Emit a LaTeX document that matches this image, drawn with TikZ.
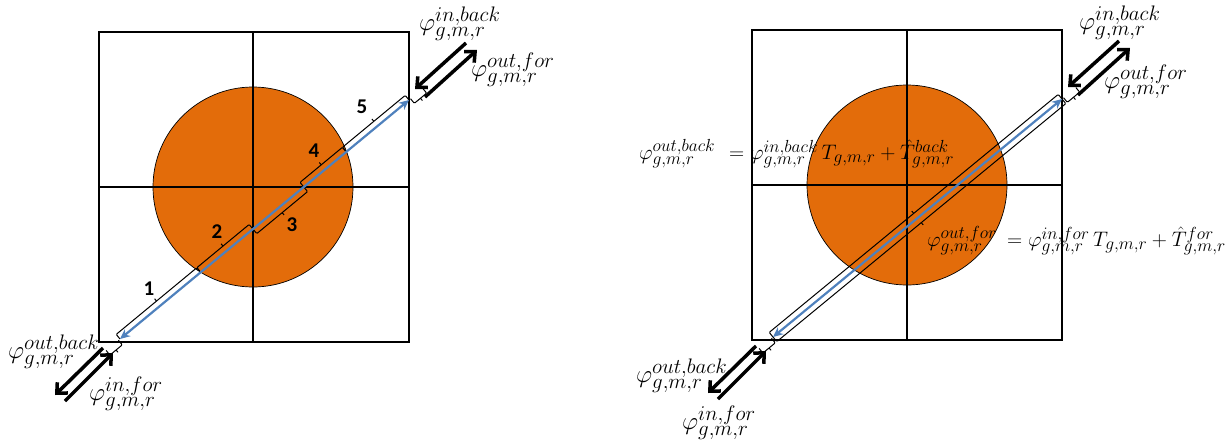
\documentclass[tikz,border=0pt]{standalone}
\usepackage{fix-cm}
\usepackage{fontspec}
\newfontfamily\numfont{Carlito}
\usetikzlibrary{arrows.meta,calc}
\definecolor{orng}{RGB}{227,108,10}
\definecolor{bluel}{RGB}{79,129,189}
\DeclareMathSizes{25}{25}{21}{16}
\DeclareMathSizes{21}{21}{17.5}{13}
\newcommand\segbracket[4]{%
  \draw[brk] (#1) -- ($(#1)+(#3,#4)$) -- ($(#2)+(#3,#4)$) -- (#2);
  \draw[brk] ($(#1)!0.5!(#2)+(#3,#4)$) -- ($(#1)!0.5!(#2)+0.5*(#3,#4)+(#3,#4)$);}
\begin{document}
\begin{tikzpicture}[x=1pt,y=-1pt,
  boxframe/.style={line width=2.2pt},
  cellline/.style={line width=1.6pt},
  disc/.style={fill=orng,draw=black,line width=0.7pt},
  flux/.style={draw=bluel,line width=2.2pt,{Stealth[length=10pt,width=9pt]}-{Stealth[length=10pt,width=9pt]}},
  brk/.style={line width=1pt,rounded corners=1pt},
  bigarrow/.style={line width=3.5pt,-{Straight Barb[length=8pt,width=15pt]}},
  lab/.style={font=\fontsize{25}{28}\selectfont,inner sep=0pt,anchor=west},
  eqn/.style={font=\fontsize{21}{24}\selectfont,inner sep=0pt,anchor=west},
  num/.style={font=\numfont\bfseries\fontsize{21}{24}\selectfont,inner sep=0pt}
]
\useasboundingbox (0,0) rectangle (1229,440);

% ---------- left panel ----------
\draw[disc] (253,187) circle[radius=100pt];
\draw[cellline] (253,32) -- (253,342);
\draw[cellline] (99,187) -- (409,187);
\draw[boxframe] (99,32) rectangle (409,342);
\coordinate (LA) at (120,339);
\coordinate (LB) at (409,100);
\coordinate (L1) at ($(LA)!0.279!(LB)$);
\coordinate (L2) at ($(LA)!0.460!(LB)$);
\coordinate (L3) at ($(LA)!0.636!(LB)$);
\coordinate (L4) at ($(LA)!0.783!(LB)$);
\coordinate (LE1) at ($(LA)!-2pt!(LB)$);
\coordinate (LE2) at ($(LA)!-18pt!(LB)$);
\coordinate (LE3) at ($(LB)!-2pt!(LA)$);
\coordinate (LE4) at ($(LB)!-18pt!(LA)$);
\segbracket{LA}{L1}{-3.8}{-4.6}
\segbracket{L1}{L2}{-3.8}{-4.6}
\segbracket{L2}{L3}{3.8}{4.6}
\segbracket{L3}{L4}{-3.8}{-4.6}
\segbracket{L4}{LB}{-3.8}{-4.6}
\segbracket{LE1}{LE2}{3.8}{4.6}
\segbracket{LE3}{LE4}{3.8}{4.6}
\draw[flux] (LA) -- (LB);
\node[num] (n1) at (149,289) {1};
\node[num] (n2) at (217,232) {2};
\node[num] (n3) at (292,225) {3};
\node[num] (n4) at (314,151) {4};
\node[num] (n5) at (362,107) {5};
\coordinate (La1) at (103,348); \coordinate (La2) at (55,395);
\coordinate (La3) at (65,401);  \coordinate (La4) at (113,353);
\coordinate (La5) at (466,43);  \coordinate (La6) at (415,89);
\coordinate (La7) at (425,97);  \coordinate (La8) at (477,50);
\draw[bigarrow] (La1) -- (La2);
\draw[bigarrow] (La3) -- (La4);
\draw[bigarrow] (La5) -- (La6);
\draw[bigarrow] (La7) -- (La8);
\node[lab] (Linback) at (419,24) {$\varphi^{in,back}_{g,m,r}$};
\node[lab] (Loutfor) at (471,70) {$\varphi^{out,for}_{g,m,r}$};
\node[lab] (Loutback) at (8,352) {$\varphi^{out,back}_{g,m,r}$};
\node[lab] (Linfor) at (89,394) {$\varphi^{in,for}_{g,m,r}$};

% ---------- right panel ----------
\begin{scope}[shift={(653,-2)}]
\draw[disc] (254,187) circle[radius=100pt];
\draw[cellline] (254,32) -- (254,342);
\draw[cellline] (99,187) -- (409,187);
\draw[boxframe] (99,32) rectangle (409,342);
\coordinate (RA) at (120,339);
\coordinate (RB) at (409,101);
\coordinate (RE1) at ($(RA)!-2pt!(RB)$);
\coordinate (RE2) at ($(RA)!-18pt!(RB)$);
\coordinate (RE3) at ($(RB)!-2pt!(RA)$);
\coordinate (RE4) at ($(RB)!-18pt!(RA)$);
\segbracket{RA}{RB}{-3.8}{-4.6}
\segbracket{RA}{RB}{3.8}{4.6}
\segbracket{RE1}{RE2}{3.8}{4.6}
\segbracket{RE3}{RE4}{3.8}{4.6}
\draw[flux] (RA) -- (RB);
\coordinate (Ra1) at (103,348); \coordinate (Ra2) at (55,395);
\coordinate (Ra3) at (65,401);  \coordinate (Ra4) at (113,353);
\coordinate (Ra5) at (466,43);  \coordinate (Ra6) at (415,89);
\coordinate (Ra7) at (425,97);  \coordinate (Ra8) at (477,50);
\draw[bigarrow] (Ra1) -- (Ra2);
\draw[bigarrow] (Ra3) -- (Ra4);
\draw[bigarrow] (Ra5) -- (Ra6);
\draw[bigarrow] (Ra7) -- (Ra8);
\end{scope}
\node[lab] (Rinback) at (1079,23) {$\varphi^{in,back}_{g,m,r}$};
\node[lab] (Routfor) at (1104,82) {$\varphi^{out,for}_{g,m,r}$};
\node[lab] (Routback) at (636,376) {$\varphi^{out,back}_{g,m,r}$};
\node[lab] (Rinfor) at (682,423) {$\varphi^{in,for}_{g,m,r}$};
\node[eqn] (eqAl) at (639,154) {$\varphi^{out,back}_{g,m,r}$};
\node[eqn] (eqAr) at (729,154) {$=\varphi^{in,back}_{g,m,r}\,T_{g,m,r}+\hat{T}^{back}_{g,m,r}$};
\node[eqn] (eqBl) at (927,241) {$\varphi^{out,for}_{g,m,r}$};
\node[eqn] (eqBr) at (1007,241) {$=\varphi^{in,for}_{g,m,r}\,T_{g,m,r}+\hat{T}^{for}_{g,m,r}$};
\end{tikzpicture}
\end{document}
